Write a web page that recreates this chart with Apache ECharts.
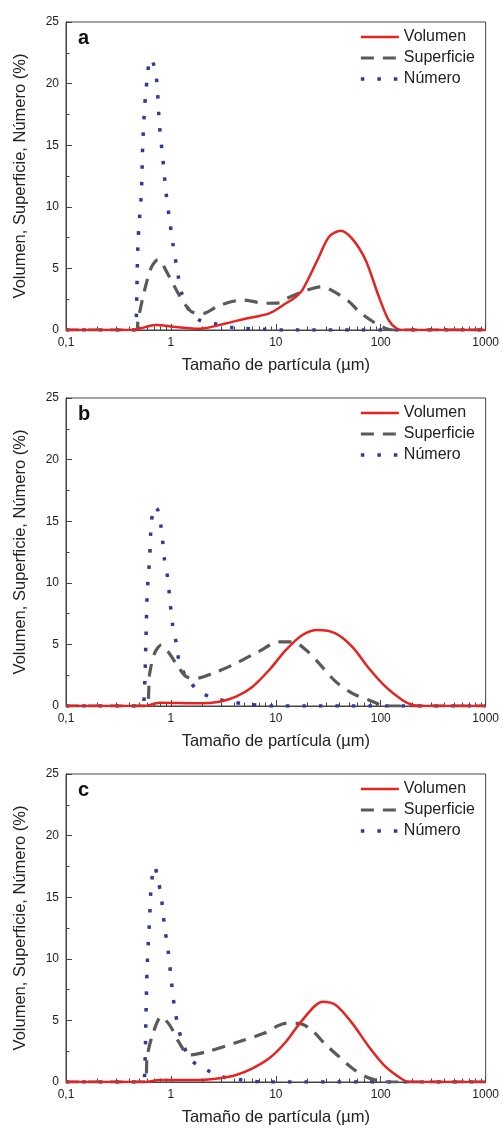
<!DOCTYPE html>
<html>
<head>
<meta charset="utf-8">
<script src="https://cdn.jsdelivr.net/npm/echarts@6/dist/echarts.min.js"></script>
<style>
  html, body { margin: 0; padding: 0; background: #fff; }
  #chart { width: 502px; height: 1128px; }
</style>
</head>
<body>
<div id="chart"></div>
<script>
// panel letters and legend names
const panels = ['a', 'b', 'c'];
const names = ['Volumen', 'Superficie', 'Número'];
const minorTicks = [0.2,0.3,0.4,0.5,0.6,0.7,0.8,0.9,2,3,4,5,6,7,8,9,20,30,40,50,60,70,80,90,200,300,400,500,600,700,800,900];

// panel a  [size (µm), %]
const volA = [[0.1,0],[0.45,0],[0.5,0.1],[0.72,0.4],[1.05,0.27],[1.87,0.1],[3.4,0.55],[5,0.9],[8.65,1.35],[12.5,2.17],[15,2.6],[17.9,3.25],[21.5,4.55],[25.8,5.95],[32.2,7.57],[41.5,8.06],[53.6,7.4],[71.7,5.68],[96,2.7],[119,0.8],[143,0.1],[170,0],[1000,0]];
const supA = [[0.1,0],[0.47,0],[0.486,0.8],[0.562,3.25],[0.652,5.1],[0.75,5.7],[0.97,4.3],[1.17,3.0],[1.56,1.5],[2.01,1.35],[2.9,2.0],[4.83,2.43],[8.05,2.17],[10.7,2.2],[13,2.6],[17.9,3.1],[27.5,3.5],[33.5,3.25],[50,2.3],[62,1.5],[89,0.55],[110,0.15],[130,0],[1000,0]];
const numA = [[0.1,0],[0.46,0],[0.47,1.9],[0.486,7.2],[0.523,11.2],[0.54,15.3],[0.575,19.3],[0.6,20.6],[0.627,22],[0.67,21.8],[0.727,20.5],[0.78,16.5],[0.84,13.8],[0.9,11.1],[0.97,9],[1.045,7.0],[1.17,4.46],[1.256,3.1],[1.45,1.76],[1.87,0.8],[2.7,0.5],[3.9,0.2],[8,0.05],[12,0],[1000,0]];

// panel b
const volB = [[0.1,0],[0.55,0],[0.78,0.27],[1.87,0.22],[2.9,0.35],[4.18,0.76],[6,1.57],[8.65,2.92],[12.5,4.55],[17.9,5.76],[25,6.17],[37,5.9],[53.6,4.8],[77,3.06],[111,1.57],[160,0.49],[199,0.1],[240,0],[1000,0]];
const supB = [[0.1,0],[0.58,0],[0.628,2.65],[0.7,4.3],[0.81,4.95],[0.94,4.4],[1.17,3.2],[1.4,2.38],[1.74,2.25],[2.5,2.65],[4.18,3.46],[6.8,4.4],[10.8,5.2],[14.5,5.2],[19.4,4.55],[25.8,3.46],[37,2.0],[53.6,1.03],[77,0.49],[95,0.16],[110,0],[1000,0]];
const numB = [[0.1,0],[0.545,0],[0.55,0.1],[0.562,1.57],[0.578,5.36],[0.594,9.1],[0.628,12.1],[0.65,14.8],[0.7,16.2],[0.75,15.9],[0.81,14.4],[0.87,11.85],[0.94,10.2],[0.97,8.9],[1.045,6.4],[1.125,5.1],[1.21,3.46],[1.4,2.38],[1.87,1.16],[2.65,0.62],[3.6,0.35],[6,0.1],[10,0],[1000,0]];

// panel c
const volC = [[0.1,0],[0.57,0],[0.78,0.16],[1.87,0.16],[2.9,0.3],[4.18,0.57],[6,1.11],[8.65,1.92],[12.5,3.27],[17.9,5.03],[28,6.52],[37.2,6.25],[53.6,4.76],[77,2.87],[111,1.24],[160,0.22],[185,0],[1000,0]];
const supC = [[0.1,0],[0.57,0],[0.594,2.06],[0.675,3.95],[0.81,5.3],[0.97,4.63],[1.21,3.14],[1.5,2.19],[2.2,2.46],[4,3.14],[7.7,3.95],[12.5,4.76],[16.5,4.76],[22,4.22],[29,3.14],[40,2.06],[53.6,1.11],[72,0.43],[95,0.1],[110,0],[1000,0]];
const numC = [[0.1,0],[0.55,0],[0.562,0.7],[0.57,2.3],[0.578,5.3],[0.594,9.36],[0.628,13.4],[0.65,16],[0.7,17.5],[0.75,16.5],[0.81,15],[0.87,12.6],[0.94,10.7],[1.0,8.55],[1.08,6.1],[1.17,4.5],[1.3,3.14],[1.55,1.8],[2.2,0.97],[3.1,0.43],[4.9,0.16],[8,0],[1000,0]];

const panelData = [[volA, supA, numA], [volB, supB, numB], [volC, supC, numC]];

const chart = echarts.init(document.getElementById('chart'));
const font = 'Liberation Sans, Arial, sans-serif';
const axisColor = '#444';
const panelH = 376;

const styles = [
  { color: '#e8231f', width: 2.5, type: 'solid' },
  { color: '#5a5a5a', width: 3.2, type: [13, 9] },
  { color: '#2f3a9a', width: 3.5, type: [3.5, 13] }
];

const grids = [], xAxes = [], yAxes = [], series = [], legends = [], titles = [];

panels.forEach((p, i) => {
  const top = 22 + i * panelH;
  grids.push({ left: 66, right: 15, top: top, height: 308, show: true, borderColor: axisColor, borderWidth: 1 });
  xAxes.push({
    type: 'log', gridIndex: i, min: 0.1, max: 1000, logBase: 10,
    name: 'Tamaño de partícula (µm)', nameLocation: 'middle', nameGap: 27,
    nameTextStyle: { fontFamily: font, fontSize: 16.5, color: '#222' },
    axisLine: { lineStyle: { color: axisColor } },
    axisTick: { inside: true, length: 6, lineStyle: { color: axisColor } },
    splitLine: { show: false },
    axisLabel: { fontFamily: font, fontSize: 12, color: '#222', margin: 7,
      formatter: v => String(+v.toPrecision(3)).replace('.', ',') }
  });
  // second axis only for the log-spaced minor ticks
  xAxes.push({
    type: 'log', gridIndex: i, min: 0.1, max: 1000, logBase: 10, position: 'bottom',
    axisLine: { show: false },
    axisTick: { inside: true, length: 3.5, customValues: minorTicks, lineStyle: { color: axisColor } },
    axisLabel: { show: false },
    splitLine: { show: false }
  });
  yAxes.push({
    type: 'value', gridIndex: i, min: 0, max: 25, interval: 5,
    name: 'Volumen, Superficie, Número (%)', nameLocation: 'middle', nameGap: 37,
    nameTextStyle: { fontFamily: font, fontSize: 16.5, color: '#222' },
    axisLine: { show: true, lineStyle: { color: axisColor } },
    axisTick: { inside: true, length: 6, lineStyle: { color: axisColor } },
    minorTick: { show: true, splitNumber: 2, length: 3.5, lineStyle: { color: axisColor } },
    splitLine: { show: false },
    axisLabel: { fontFamily: font, fontSize: 12, color: '#222', margin: 7 }
  });
  panelData[i].forEach((d, k) => {
    series.push({
      name: names[k], type: 'line', xAxisIndex: i * 2, yAxisIndex: i,
      data: d, smooth: 0.3, showSymbol: false, symbol: 'none',
      lineStyle: styles[k], itemStyle: { color: styles[k].color },
      z: 3 - k
    });
  });
  legends.push({
    data: names.map((n, k) => ({ name: n, lineStyle: { width: styles[k].width, type: styles[k].type, color: styles[k].color } })),
    orient: 'vertical', right: 22, top: top + 2, itemWidth: 38, itemHeight: 10, itemGap: 5,
    itemStyle: { opacity: 0 },
    textStyle: { fontFamily: font, fontSize: 16, color: '#222' }, selectedMode: false
  });
  titles.push({
    text: p, left: 73, top: top + 1,
    textStyle: { fontFamily: font, fontSize: 20, fontWeight: 'bold', color: '#111' }
  });
});

chart.setOption({
  animation: false,
  backgroundColor: '#fff',
  title: titles,
  legend: legends,
  grid: grids,
  xAxis: xAxes,
  yAxis: yAxes,
  series: series
});
</script>
</body>
</html>
